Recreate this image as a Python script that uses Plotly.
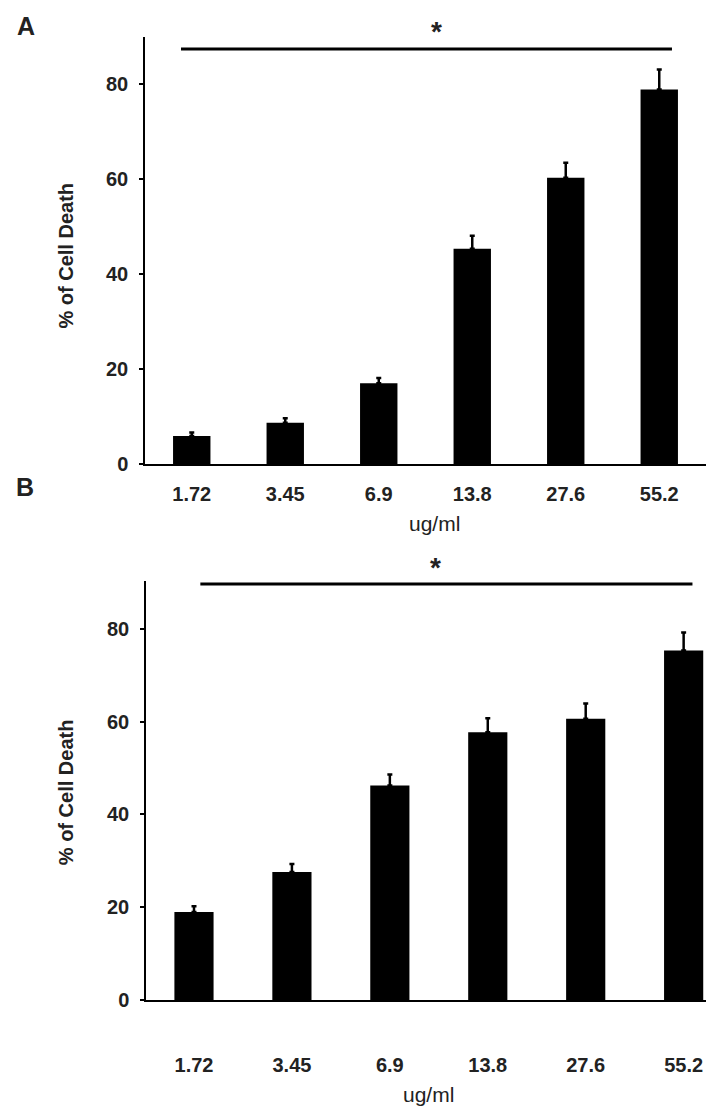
import plotly.graph_objects as go

categories = ["1.72", "3.45", "6.9", "13.8", "27.6", "55.2"]
values_a = [6.0, 8.8, 17.1, 45.4, 60.3, 78.9]
err_a = [0.7, 0.9, 1.1, 2.7, 3.2, 4.2]
values_b = [19.0, 27.6, 46.2, 57.7, 60.6, 75.3]
err_b = [1.2, 1.7, 2.4, 3.0, 3.3, 3.9]
y_ticks = [0, 20, 40, 60, 80]
# significance bracket: [x_start, x_end, y]
sig_a = [-0.115, 5.136, 87.4]
sig_b = [0.065, 5.09, 89.6]

W, H = 714, 1117
def px(x):
    return x / W
def py(y):
    return 1 - y / H

TXT = "#222222"
FONT = "Liberation Sans, Arial, sans-serif"

fig = go.Figure()
for vals, errs, xa, ya in [(values_a, err_a, "x", "y"), (values_b, err_b, "x2", "y2")]:
    fig.add_trace(go.Bar(
        x=list(range(len(categories))), y=vals, width=0.4,
        marker=dict(color="black", line=dict(width=0)),
        error_y=dict(type="data", symmetric=False, array=errs,
                     arrayminus=[0] * len(errs), color="black",
                     thickness=2.5, width=2.5),
        xaxis=xa, yaxis=ya, showlegend=False,
    ))

xcommon = dict(showline=True, linecolor="black", linewidth=2, ticks="",
               showgrid=False, zeroline=False,
               tickmode="array", tickvals=list(range(len(categories))),
               ticktext=categories,
               tickfont=dict(family=FONT, size=20, color=TXT, weight="bold"))
ycommon = dict(showline=True, linecolor="black", linewidth=1.5, ticks="outside",
               ticklen=4, tickwidth=1.5, tickcolor="black",
               showgrid=False, zeroline=False, tickmode="array",
               tickvals=y_ticks, ticklabelstandoff=7,
               tickfont=dict(family=FONT, size=20, color=TXT, weight="bold"))

fig.update_layout(
    width=W, height=H, margin=dict(l=0, r=0, t=0, b=0),
    paper_bgcolor="white", plot_bgcolor="white", bargap=0.6,
    xaxis=dict(xcommon, domain=[px(137), px(698)], range=[-0.5, 5.5],
               anchor="y", ticklabelstandoff=11),
    yaxis=dict(ycommon, domain=[py(461), py(29)], range=[0, 90], anchor="x"),
    xaxis2=dict(xcommon, domain=[px(138), px(706)], range=[-0.49, 5.31],
                anchor="y2", ticklabelstandoff=46),
    yaxis2=dict(ycommon, domain=[py(1002), py(579)], range=[0, 90.2], anchor="x2"),
)

for sig, xr, yr in [(sig_a, "x", "y"), (sig_b, "x2", "y2")]:
    fig.add_shape(type="line", xref=xr, yref=yr, x0=sig[0], x1=sig[1],
                  y0=sig[2], y1=sig[2], line=dict(color="black", width=3))

annots = [
    dict(text="A", x=px(18), y=py(18), size=25, weight="bold"),
    dict(text="B", x=px(17), y=py(484), size=25, weight="bold"),
    dict(text="*", x=px(428), y=py(24), size=28, weight="bold"),
    dict(text="*", x=px(427), y=py(565), size=28, weight="bold"),
    dict(text="ug/ml", x=px(426), y=py(521), size=21, weight="normal"),
    dict(text="ug/ml", x=px(420), y=py(1097), size=21, weight="normal"),
    dict(text="% of Cell Death", x=px(58), y=py(250), size=20, weight="bold", rot=-90),
    dict(text="% of Cell Death", x=px(58), y=py(792), size=20, weight="bold", rot=-90),
]
for a in annots:
    fig.add_annotation(text=a["text"], x=a["x"], y=a["y"], xref="paper", yref="paper",
                       xanchor="center", yanchor="middle", showarrow=False,
                       textangle=a.get("rot", 0),
                       font=dict(family=FONT, size=a["size"], color=TXT, weight=a["weight"]))

fig.write_html("out.html")
